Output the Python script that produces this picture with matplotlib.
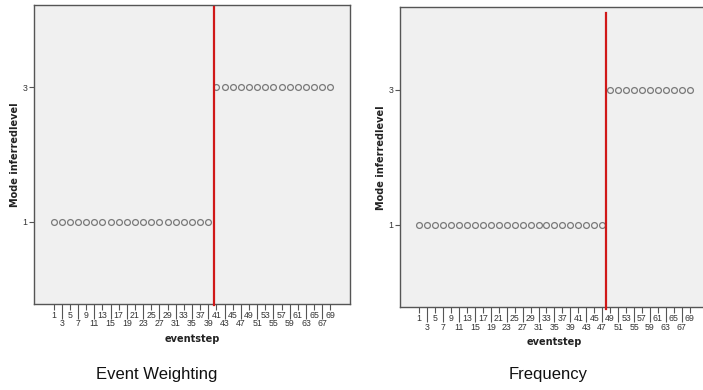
import matplotlib
matplotlib.use("Agg")
import matplotlib.pyplot as plt
import numpy as np

plt.rcParams['font.family'] = ['Liberation Sans', 'DejaVu Sans']

# ---- data ----
eventsteps = list(range(1, 70, 2))  # 1,3,...,69 (categorical)
ew_levels = [1] * 20 + [3] * 15        # Event Weighting
freq_levels = [1] * 24 + [3] * 11      # Frequency
ew_cut = 19.74     # red line position (category index)
freq_cut = 23.5
y_ticks = [1, 3]
titles = ["Event Weighting", "Frequency"]

W, H = 703, 390
fig = plt.figure(figsize=(W / 100, H / 100), dpi=100)

def px_axes(x0, x1, ytop, ybot):
    return fig.add_axes([x0 / W, 1 - ybot / H, (x1 - x0) / W, (ybot - ytop) / H])

frame_col = '#555555'
text_col = '#333333'

def draw(ax, levels, cut, red_ymin, red_ymax):
    idx = np.arange(len(eventsteps))
    ax.set_facecolor('#f0f0f0')
    ax.plot(idx, levels, linestyle='none', marker='o', markersize=4.2,
            markerfacecolor='none', markeredgecolor='#7a7a7a', markeredgewidth=0.9,
            zorder=3)
    ax.axvline(cut, ymin=red_ymin, ymax=red_ymax, color='#d01818', lw=1.6,
               clip_on=False, zorder=4)
    ax.set_xlim(-2.4, len(eventsteps) - 1 + 2.4)
    ax.set_ylim(-0.225, 4.225)
    ax.set_yticks(y_ticks)
    ax.set_yticklabels([str(v) for v in y_ticks])
    major = idx[0::2]
    minor = idx[1::2]
    ax.set_xticks(major)
    ax.set_xticklabels([str(eventsteps[i]) for i in major])
    ax.set_xticks(minor, minor=True)
    ax.set_xticklabels([str(eventsteps[i]) for i in minor], minor=True)
    ax.tick_params(axis='x', which='major', length=4, width=0.8, color=frame_col,
                   labelsize=6.3, labelcolor=text_col, pad=1)
    ax.tick_params(axis='x', which='minor', length=10.5, width=0.8, color=frame_col,
                   labelsize=6.3, labelcolor=text_col, pad=0.5)
    ax.tick_params(axis='y', length=3.5, width=0.8, color=frame_col,
                   labelsize=6.3, labelcolor=text_col, pad=1)
    for s in ax.spines.values():
        s.set_color(frame_col)
        s.set_linewidth(1.0)
    ax.set_xlabel('eventstep', fontsize=7, fontweight='bold', color='#222222',
                  family=['DejaVu Sans'], labelpad=4)
    ax.set_ylabel('Mode inferredlevel', fontsize=7, fontweight='bold', color='#222222',
                  family=['DejaVu Sans'], labelpad=2)

ax1 = px_axes(34, 350, 5, 304)
draw(ax1, ew_levels, ew_cut, -0.005, 0.993)

# right axes extends past the figure edge (right border cut off)
sp = 7.96
x0r = 400
x1r = x0r + (len(eventsteps) - 1 + 4.8) * sp
ax2 = px_axes(x0r, x1r, 7.3, 307.3)
draw(ax2, freq_levels, freq_cut, -0.004, 0.98)

fig.text(157 / W, 1 - 374 / H, titles[0], fontsize=12, ha='center', va='center', color='#111111')
fig.text(548 / W, 1 - 375 / H, titles[1], fontsize=12, ha='center', va='center', color='#111111')

fig.savefig('out.png', dpi=100)
